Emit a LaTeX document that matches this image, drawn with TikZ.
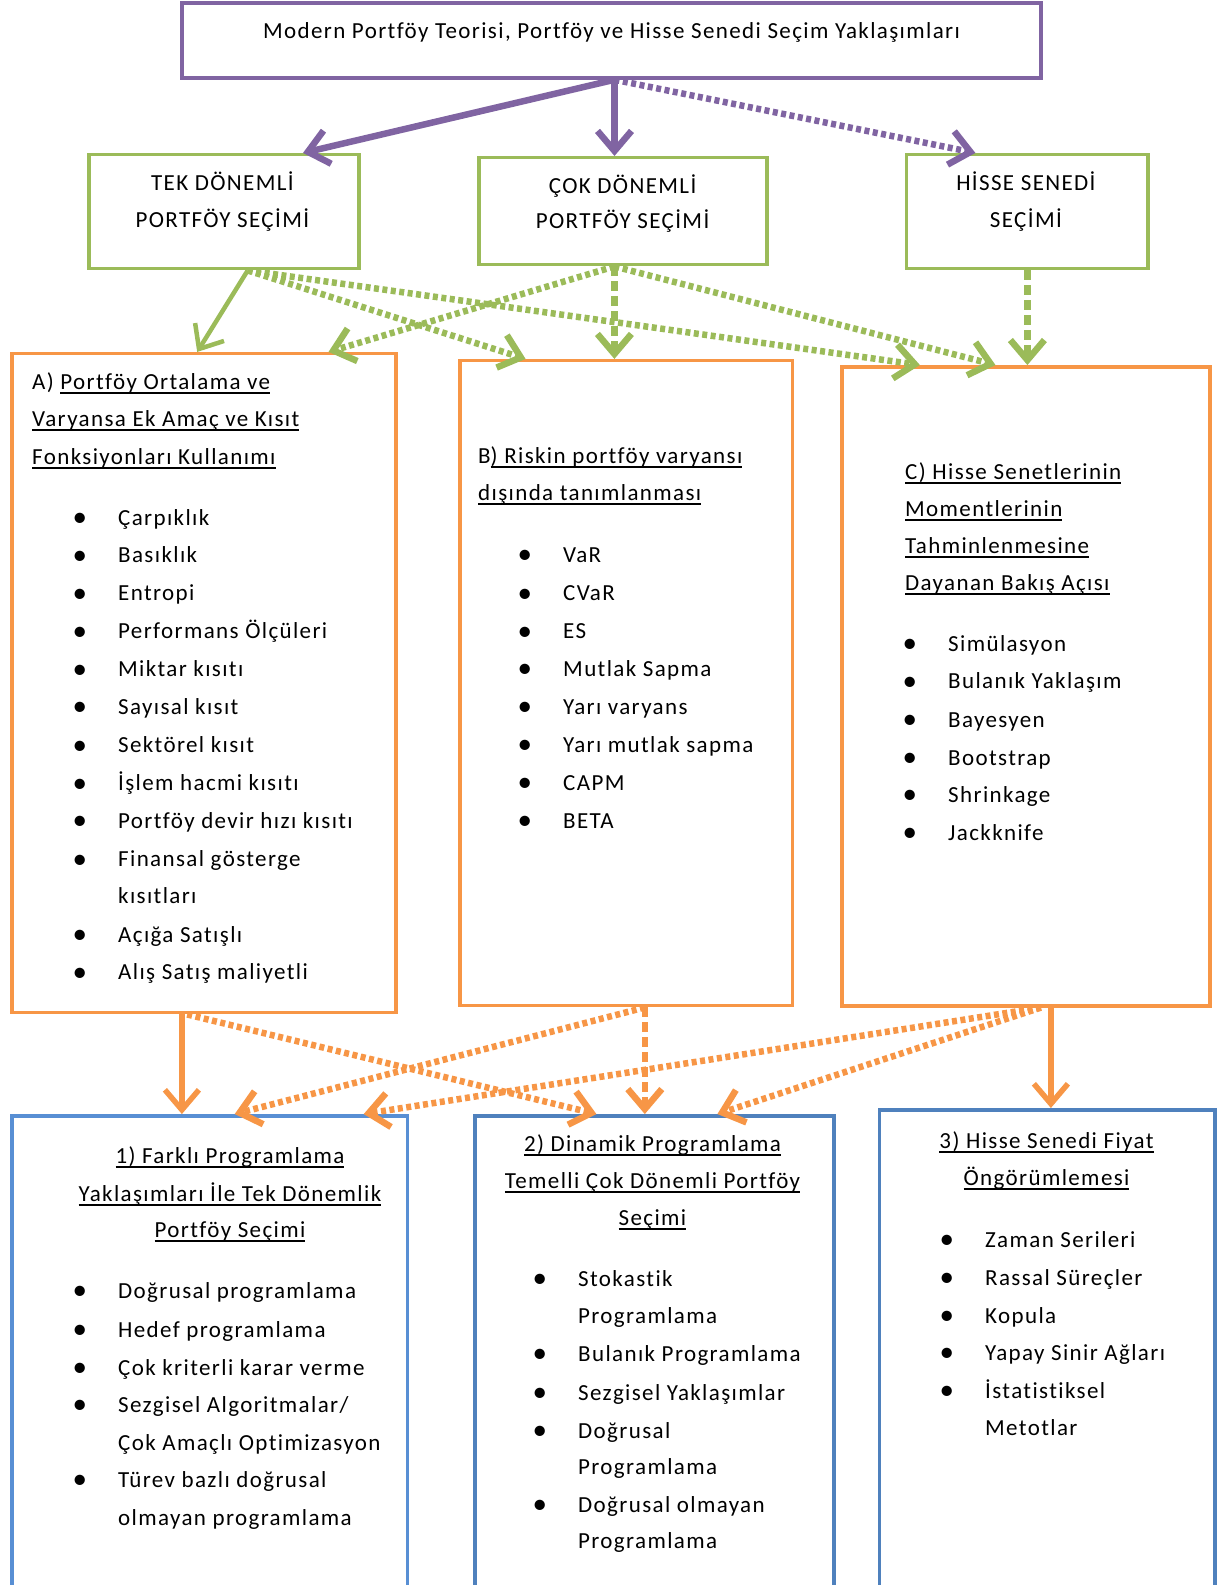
\documentclass[tikz,border=0pt]{standalone}
\usepackage{fontspec}
\setmainfont{Carlito}[LetterSpace=6, Ligatures={NoCommon}]
\usepackage{xcolor}
\definecolor{mptpurple}{RGB}{128,100,162}
\definecolor{selgreen}{RGB}{155,187,89}
\definecolor{apporange}{RGB}{247,150,70}
\definecolor{resblue}{RGB}{79,129,189}
\definecolor{reslblue}{RGB}{88,143,212}
\usepackage{tikz}
\usetikzlibrary{arrows.meta}
\newcommand{\blt}{\makebox[45.5pt][l]{\raisebox{-1.5pt}{\fontsize{29pt}{29pt}\selectfont\textbullet}}}
\newlength{\ulw}
\newcommand{\uln}[1]{\settowidth{\ulw}{#1}\rlap{\rule[-4.5pt]{\ulw}{1.7pt}}#1}

\begin{document}
\begin{tikzpicture}[x=1pt, y=-1pt,
  font=\fontsize{23pt}{38pt}\selectfont,
  box/.style={draw, line width=3.5pt, inner sep=0pt},
  lbl/.style={anchor=base, inner sep=0pt},
  hd/.style={anchor=base west, inner sep=0pt},
  itm/.style={anchor=base west, inner sep=0pt},
  arrow/.style={-{Straight Barb[length=20pt,width=34pt]}, line width=5.5pt},
  dline/.style={arrow, line width=6.5pt, dash pattern=on 5pt off 3.5pt},
  vline/.style={arrow, line width=6.5pt, dash pattern=on 10pt off 5pt}]
  \useasboundingbox (0,0) rectangle (1228,1585);
  \clip (0,0) rectangle (1228,1585);

  % --- top ---
  \node[box, draw=mptpurple, minimum width=859pt, minimum height=75pt] (mpt) at (611.5,40.5) {};
  \node[lbl] (mptT) at (611.5,38.5) {Modern Portföy Teorisi, Portföy ve Hisse Senedi Seçim Yaklaşımları};

  % --- selection tier ---
  \node[box, draw=selgreen, minimum width=270pt, minimum height=114pt] (tek) at (224,211.7) {};
  \node[box, draw=selgreen, minimum width=288pt, minimum height=107pt] (cok) at (623,211.2) {};
  \node[box, draw=selgreen, minimum width=241.5pt, minimum height=114pt] (hisse) at (1027.4,211.7) {};
  \node[lbl] (tek1) at (222.4,190) {TEK DÖNEMLİ};
  \node[lbl] (tek2) at (222.4,227.3) {PORTFÖY SEÇİMİ};
  \node[lbl] (cok1) at (622.6,193) {ÇOK DÖNEMLİ};
  \node[lbl] (cok2) at (622.6,228.3) {PORTFÖY SEÇİMİ};
  \node[lbl] (hisse1) at (1025.9,190) {HİSSE SENEDİ};
  \node[lbl] (hisse2) at (1025.9,227.3) {SEÇİMİ};

  % --- approaches (A, B, C) ---
  \node[box, draw=apporange, minimum width=384pt, minimum height=659pt] (boxA) at (204.2,683.2) {};
  \node[box, draw=apporange, minimum width=332.5pt, minimum height=645pt] (boxB) at (626.1,683.2) {};
  \node[box, draw=apporange, minimum width=368pt, minimum height=639pt] (boxC) at (1025.9,686.3) {};

  \node[hd] (hA1) at (32,389) {A) \uln{Portföy Ortalama ve}};
  \node[hd] (hA2) at (32,426.5) {\uln{Varyansa Ek Amaç ve Kısıt}};
  \node[hd] (hA3) at (32,464) {\uln{Fonksiyonları Kullanımı}};
  \foreach \y/\s [count=\i] in {525/Çarpıklık, 562.5/Basıklık, 600.5/Entropi,
      638.5/Performans Ölçüleri, 676.5/Miktar kısıtı, 714/Sayısal kısıt,
      752.5/Sektörel kısıt, 790.5/İşlem hacmi kısıtı, 828/Portföy devir hızı kısıtı,
      866.5/Finansal gösterge, 942/Açığa Satışlı, 979.5/Alış Satış maliyetli}
    \node[itm] (a\i) at (72.5,\y) {\blt\s};
  \node[itm] (a10b) at (118,903) {kısıtları};

  \node[hd] (hB1) at (478,463) {B\uln{) Riskin portföy varyansı}};
  \node[hd] (hB2) at (478,500.5) {\uln{dışında tanımlanması}};
  \foreach \y/\s [count=\i] in {562/VaR, 600.5/CVaR, 638.5/ES, 676/Mutlak Sapma,
      714/Yarı varyans, 752/Yarı mutlak sapma, 790/CAPM, 828/BETA}
    \node[itm] (b\i) at (517.5,\y) {\blt\s};

  \node[hd] (hC1) at (905,479) {\uln{C) Hisse Senetlerinin}};
  \node[hd] (hC2) at (905,516.5) {\uln{Momentlerinin}};
  \node[hd] (hC3) at (905,553) {\uln{Tahminlenmesine}};
  \node[hd] (hC4) at (905,590) {\uln{Dayanan Bakış Açısı}};
  \foreach \y/\s [count=\i] in {651/Simülasyon, 688.5/Bulanık Yaklaşım, 727/Bayesyen,
      765/Bootstrap, 802/Shrinkage, 840/Jackknife}
    \node[itm] (c\i) at (902.5,\y) {\blt\s};

  % --- results (1, 2, 3) ---
  \node[box, draw=reslblue, minimum width=395.2pt, minimum height=504.2pt] (box1) at (209.7,1367.9) {};
  \node[box, draw=resblue, minimum width=358.8pt, minimum height=504.2pt] (box2) at (654.4,1367.9) {};
  \node[box, draw=resblue, minimum width=335.6pt, minimum height=510.3pt] (box3) at (1047.1,1364.9) {};

  \node[lbl] (h11) at (230,1163) {\uln{1) Farklı Programlama}};
  \node[lbl] (h12) at (230,1201) {\uln{Yaklaşımları İle Tek Dönemlik}};
  \node[lbl] (h13) at (230,1237) {\uln{Portföy Seçimi}};
  \foreach \y/\s [count=\i] in {1298/Doğrusal programlama, 1337/Hedef programlama,
      1375/Çok kriterli karar verme, 1412/{Sezgisel Algoritmalar/}, 1487/Türev bazlı doğrusal}
    \node[itm] (r1\i) at (72.5,\y) {\blt\s};
  \node[itm] (r14b) at (118,1450) {Çok Amaçlı Optimizasyon};
  \node[itm] (r15b) at (118,1525) {olmayan programlama};

  \node[lbl] (h21) at (652.5,1151) {\uln{2) Dinamik Programlama}};
  \node[lbl] (h22) at (652.5,1188) {\uln{Temelli Çok Dönemli Portföy}};
  \node[lbl] (h23) at (652.5,1225) {\uln{Seçimi}};
  \foreach \y/\s [count=\i] in {1286/Stokastik, 1361/Bulanık Programlama,
      1400/Sezgisel Yaklaşımlar, 1438/Doğrusal, 1512/Doğrusal olmayan}
    \node[itm] (r2\i) at (532.5,\y) {\blt\s};
  \node[itm] (r21b) at (578,1323) {Programlama};
  \node[itm] (r24b) at (578,1474) {Programlama};
  \node[itm] (r25b) at (578,1548) {Programlama};

  \node[lbl] (h31) at (1046.5,1148) {\uln{3) Hisse Senedi Fiyat}};
  \node[lbl] (h32) at (1046.5,1185) {\uln{Öngörümlemesi}};
  \foreach \y/\s [count=\i] in {1247/Zaman Serileri, 1285/Rassal Süreçler, 1323/Kopula,
      1360/Yapay Sinir Ağları, 1398/İstatistiksel}
    \node[itm] (r3\i) at (939.5,\y) {\blt\s};
  \node[itm] (r35b) at (985,1435) {Metotlar};

  % --- flows top -> selection ---
  \coordinate (mptout) at ([xshift=3pt]mpt.south);
  \draw[arrow, mptpurple, line width=6.5pt] (mptout) -- ([xshift=79pt]tek.north);
  \draw[arrow, mptpurple, line width=6.5pt] (mptout) -- (mptout |- cok.north);
  \draw[dline, mptpurple] (mptout) -- ([xshift=-52pt]hisse.north);

  % --- flows selection -> approaches ---
  \coordinate (tekout) at ([xshift=23.7pt]tek.south);
  \coordinate (cokout) at ([xshift=-8.6pt]cok.south);
  \draw[arrow, selgreen, line width=4.5pt] (tekout) -- ([xshift=-7pt]boxA.north);
  \draw[dline, selgreen] (tekout) -- ([xshift=-100.5pt]boxB.north);
  \draw[dline, selgreen] (tekout) -- ([xshift=-106pt]boxC.north);
  \draw[dline, selgreen] (cokout) -- ([xshift=124.3pt]boxA.north);
  \draw[vline, selgreen] (cokout) -- (cokout |- boxB.north);
  \draw[dline, selgreen] (cokout) -- ([xshift=-30.4pt]boxC.north);
  \draw[vline, selgreen] (hisse.south) -- (hisse.south |- boxC.north);

  % --- flows approaches -> results ---
  \coordinate (aout) at ([xshift=-22.3pt]boxA.south);
  \coordinate (aout2) at ([xshift=-17pt]boxA.south);
  \coordinate (bout) at ([xshift=18.7pt]boxB.south);
  \coordinate (cout) at ([xshift=15pt]boxC.south);
  \coordinate (cout2) at ([xshift=25pt]boxC.south);
  \draw[arrow, apporange] (aout) -- (aout |- box1.north);
  \draw[dline, apporange] (aout2) -- ([xshift=-58pt]box2.north);
  \draw[dline, apporange] (bout) -- ([xshift=25pt]box1.north);
  \draw[vline, apporange] (bout) -- (bout |- box2.north);
  \draw[dline, apporange] (cout) -- ([xshift=154pt]box1.north);
  \draw[dline, apporange] (cout) -- ([xshift=63pt]box2.north);
  \draw[arrow, apporange] (cout2) -- (cout2 |- box3.north);
\end{tikzpicture}
\end{document}
